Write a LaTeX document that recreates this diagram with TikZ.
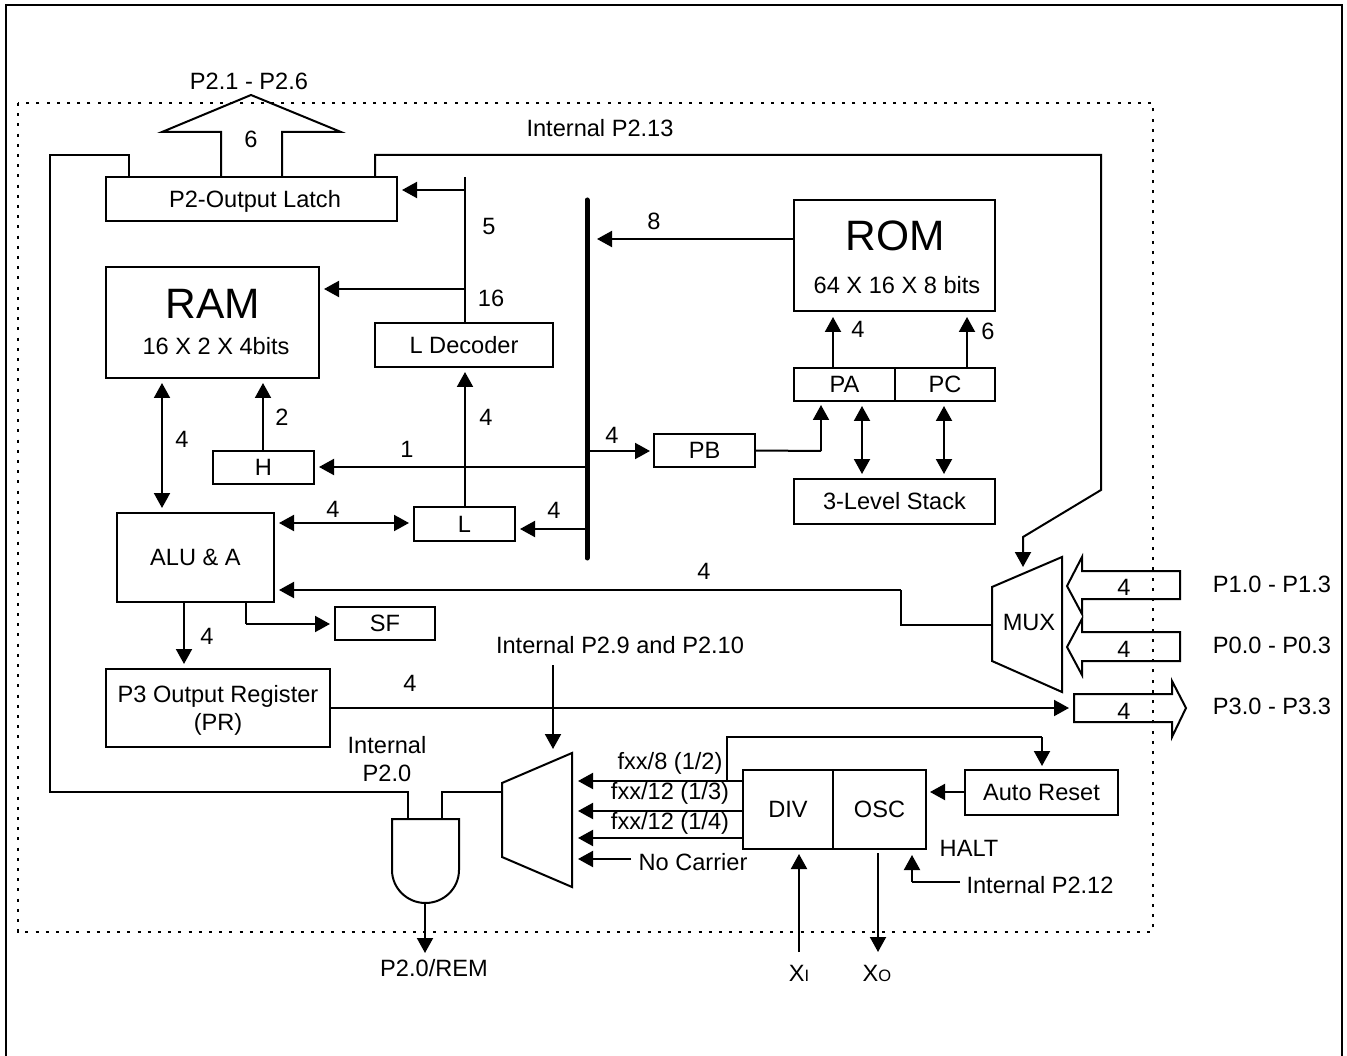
\documentclass[tikz,border=0pt]{standalone}
\usepackage{fontspec}
\setmainfont{Liberation Sans}
\usetikzlibrary{arrows.meta,calc}
\newcommand{\bx}[6]{\node[blk,minimum width={(#4-#2)*1pt},minimum height={(#5-#3)*1pt}] (#1) at ({(#2+#4)/2},{(#3+#5)/2}) {#6};}
\newcommand{\smallidx}[1]{{\fontsize{16.5}{16.5}\selectfont #1}}
\tikzset{
  blk/.style={draw,inner sep=0pt,outer sep=0pt,align=center},
  lbl/.style={inner sep=0pt,outer sep=0pt,align=center},
  wire/.style={line width=2pt,line join=miter},
  arr/.style={wire,-{Triangle[length=15pt,width=16pt]}},
  darr/.style={wire,{Triangle[length=15pt,width=16pt]}-{Triangle[length=15pt,width=16pt]}},
  outl/.style={draw,line width=2pt,line join=miter},
  outerframe/.style={draw,line width=2.4pt},
  chip/.style={draw,line width=2pt,dash pattern=on 3pt off 7.2pt},
  busbar/.style={line width=5pt,line cap=round}
}
\begin{document}
\begin{tikzpicture}[x=1pt,y=-1pt,line width=2pt,every node/.style={font=\fontsize{23.6}{27.5}\selectfont}]
\useasboundingbox (0,0) rectangle (1347,1056);
\draw[outerframe] (6,5) rectangle (1342,1065);
\draw[chip] (18,103) rectangle (1153,932);
% blocks
\bx{latch}{106}{177}{397}{221}{}
\node[lbl] (latcht) at (255,201) {P2-Output Latch};
\bx{ram}{106}{267}{319}{378}{}
\node[lbl,font=\fontsize{42.5}{50}\selectfont] (ramt) at (213,304) {RAM};
\node[lbl] (ramb) at (216,346) {16 X 2 X 4bits};
\bx{dec}{375}{323}{553}{367}{L Decoder}
\bx{rom}{794}{200}{995}{311}{}
\node[lbl,font=\fontsize{42.5}{50}\selectfont] (romt) at (895,236) {ROM};
\node[lbl] (romb) at (897,285) {64 X 16 X 8 bits};
\bx{pa}{794}{368}{895}{401}{PA}
\bx{pc}{895}{368}{995}{401}{PC}
\bx{pb}{654}{434}{755}{467}{PB}
\bx{stack}{794}{479}{995}{524}{3-Level Stack}
\bx{h}{213}{451}{314}{484}{H}
\bx{l}{414}{507}{515}{541}{L}
\bx{alu}{117}{513}{274}{602}{ALU \& A}
\bx{sf}{335}{607}{435}{640}{SF}
\bx{pr}{106}{669}{330}{747}{}
\node[lbl] (prt) at (218,696) {P3 Output Register};
\node[lbl] (prb) at (218,724) {(PR)};
\bx{div}{743}{770}{833}{849}{DIV}
\bx{osc}{833}{770}{926}{849}{OSC}
\bx{auto}{965}{770}{1118}{815}{Auto Reset}
% named points
\coordinate (busT) at (587,200);
\coordinate (busB) at (587,558);
\coordinate (ltop) at (465,177);
\draw[busbar] (busT) -- (busB);
\draw[wire] (ltop) -- (ltop |- dec.north);
% big port arrows
\draw[outl] (221,177) -- (221,132) -- (162,132) -- (251,95) -- (341,132) -- (282,132) -- (282,177);
\draw[outl] (1180,571) -- (1082,571) -- (1082,557) -- (1067,586) -- (1082,614) -- (1082,599) -- (1180,599) -- cycle;
\draw[outl] (1180,632) -- (1082,632) -- (1082,619) -- (1067,647) -- (1082,675) -- (1082,661) -- (1180,661) -- cycle;
\draw[outl] (1074,694) -- (1172,694) -- (1172,681) -- (1186,708) -- (1172,737) -- (1172,722) -- (1074,722) -- cycle;
% muxes
\draw[outl] (992,587) -- (1062,557) -- (1062,692) -- (992,661) -- cycle;
\coordinate (muxW) at (992,625);
\draw[outl] (502,783) -- (572,753) -- (572,887) -- (502,857) -- cycle;
\coordinate (mux2W) at (502,792);
% AND gate
\draw[outl] (392,819) -- (459,819) -- (459,870) .. controls (459,888.2) and (444,903) .. (425.5,903) .. controls (407,903) and (392,888.2) .. (392,870) -- cycle;
\coordinate (andO) at (425,903);
\coordinate (andL) at (408,819);
\coordinate (andR) at (442,819);
% wires
\draw[wire] (129,177) -- (129,155) -- (50,155) -- (50,792) -- (408,792) -- (andL);
\draw[wire] (andR) -- (442,792) -- (mux2W);
\draw[wire] (375,177) -- (375,155) -- (1101,155) -- (1101,490) -- (1023,537) -- (1023,552);
\draw[arr] (1023,537) -- (1023,567);
\draw[arr] (andO) -- (425,953);
\draw[arr] (465,190) -- (402,190);
\draw[arr] (465,289) -- (324,289);
\draw[arr] (rom.west |- 0,239) -- (597,239);
\draw[arr] (833,368) -- (833,317);
\draw[arr] (967,368) -- (967,317);
\draw[wire] (pb.east) -- (821,451);
\draw[arr] (821,451) -- (821,405);
\draw[darr] (862,406) -- (862,474);
\draw[darr] (944,406) -- (944,474);
\draw[arr] (587,451) -- (650,451);
\draw[arr] (587,467) -- (319,467);
\draw[arr] (263,451) -- (263,383);
\draw[arr] (465,507) -- (465,372);
\draw[darr] (162,383) -- (162,508);
\draw[darr] (279,523) -- (409,523);
\draw[arr] (585,529) -- (520,529);
\draw[wire] (muxW) -- (901,625) -- (901,590);
\draw[arr] (901,590) -- (279,590);
\draw[wire] (246,602) -- (246,624);
\draw[arr] (246,624) -- (330,624);
\draw[arr] (184,602) -- (184,664);
\draw[arr] (330,708) -- (1069,708);
\draw[arr] (553,665) -- (553,749);
\draw[arr] (743,781) -- (578,781);
\draw[arr] (743,811) -- (578,811);
\draw[arr] (743,838) -- (578,838);
\coordinate (ncEnd) at (631,859);
\draw[arr] (ncEnd) -- (578,859);
\draw[wire] (727,781) -- (727,737) -- (1042,737);
\draw[arr] (1042,737) -- (1042,766);
\draw[arr] (auto.west |- 0,792) -- (930,792);
\draw[arr] (799,952) -- (799,854);
\draw[arr] (878,853) -- (878,952);
\draw[wire] (960,882) -- (912,882);
\draw[arr] (912,882) -- (912,855);
% labels
\node[lbl] (t01) at (249,81) {P2.1 - P2.6};
\node[lbl] (t02) at (600,128) {Internal P2.13};
\node[lbl] (t03) at (251,139) {6};
\node[lbl] (t04) at (489,226) {5};
\node[lbl] (t05) at (491,298) {16};
\node[lbl] (t06) at (654,221) {8};
\node[lbl] (t07) at (858,329) {4};
\node[lbl] (t08) at (988,331) {6};
\node[lbl] (t09) at (282,417) {2};
\node[lbl] (t10) at (486,417) {4};
\node[lbl] (t11) at (182,439) {4};
\node[lbl] (t12) at (407,449) {1};
\node[lbl] (t13) at (612,435) {4};
\node[lbl] (t14) at (333,509) {4};
\node[lbl] (t15) at (554,510) {4};
\node[lbl] (t16) at (704,571) {4};
\node[lbl] (t17) at (207,636) {4};
\node[lbl] (t18) at (410,683) {4};
\node[lbl] (t19) at (1124,587) {4};
\node[lbl] (t20) at (1124,649) {4};
\node[lbl] (t21) at (1124,711) {4};
\node[lbl] (t22) at (1272,584) {P1.0 - P1.3};
\node[lbl] (t23) at (1272,645) {P0.0 - P0.3};
\node[lbl] (t24) at (1272,706) {P3.0 - P3.3};
\node[lbl] (t25) at (1029,622) {MUX};
\node[lbl] (t26) at (387,759) {Internal\\P2.0};
\node[lbl] (t27) at (620,645) {Internal P2.9 and P2.10};
\node[lbl] (t28) at (670,763) {fxx/8 (1/2)};
\node[lbl] (t29) at (670,793) {fxx/12 (1/3)};
\node[lbl] (t30) at (670,823) {fxx/12 (1/4)};
\node[lbl] (t31) at (693,862) {No Carrier};
\node[lbl] (t32) at (969,848) {HALT};
\node[lbl] (t33) at (1040,885) {Internal P2.12};
\node[lbl] (t34) at (434,968) {P2.0/REM};
\node[lbl] (t35) at (799,973) {X\smallidx{I}};
\node[lbl] (t36) at (877,973) {X\smallidx{O}};
\end{tikzpicture}
\end{document}
